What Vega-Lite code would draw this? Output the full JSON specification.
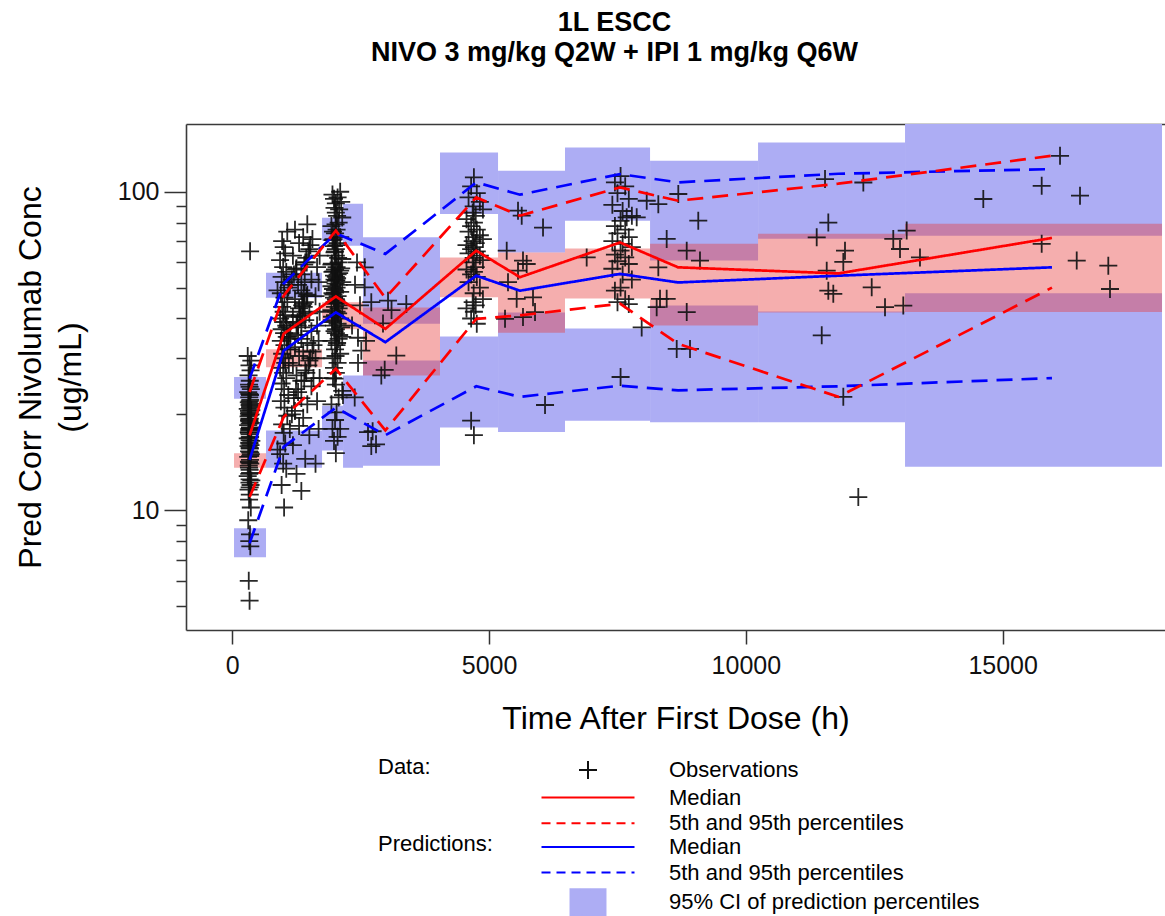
{
  "$schema": "https://vega.github.io/schema/vega-lite/v6.json",
  "width": 979,
  "height": 506,
  "autosize": {"type": "none"},
  "padding": {"left": 186, "top": 124, "right": 0, "bottom": 286},
  "background": "white",
  "config": {
    "font": "Liberation Sans",
    "view": {"stroke": null}
  },
  "title": {
    "text": ["1L ESCC", "NIVO 3 mg/kg Q2W + IPI 1 mg/kg Q6W"],
    "font": "Liberation Sans",
    "fontSize": 27,
    "fontWeight": "bold",
    "color": "#000",
    "lineHeight": 30,
    "anchor": "middle",
    "frame": "group",
    "offset": 57,
    "dx": -61
  },
  "resolve": {"axis": {"x": "independent"}},
  "datasets": {
    "piBoxes": [
      {"t0": 33, "t1": 656, "lo": 22.4, "hi": 26.2},
      {"t0": 33, "t1": 656, "lo": 7.12, "hi": 8.78},
      {"t0": 656, "t1": 1747, "lo": 46.5, "hi": 55.7},
      {"t0": 656, "t1": 1747, "lo": 13.6, "hi": 17.8},
      {"t0": 1747, "t1": 2156, "lo": 70.2, "hi": 82.9},
      {"t0": 1747, "t1": 2156, "lo": 15.4, "hi": 21.3},
      {"t0": 2156, "t1": 2545, "lo": 67.7, "hi": 91.7},
      {"t0": 2156, "t1": 2545, "lo": 13.6, "hi": 26.5},
      {"t0": 2545, "t1": 4044, "lo": 38.5, "hi": 71.9},
      {"t0": 2545, "t1": 4044, "lo": 13.8, "hi": 29.5},
      {"t0": 4044, "t1": 5174, "lo": 85.1, "hi": 132.8},
      {"t0": 4044, "t1": 5174, "lo": 18.2, "hi": 35.1},
      {"t0": 5174, "t1": 6478, "lo": 64.4, "hi": 116.4},
      {"t0": 5174, "t1": 6478, "lo": 17.6, "hi": 41.8},
      {"t0": 6478, "t1": 8134, "lo": 81.1, "hi": 137.7},
      {"t0": 6478, "t1": 8134, "lo": 19.1, "hi": 37.2},
      {"t0": 8134, "t1": 10237, "lo": 60.8, "hi": 125.1},
      {"t0": 8134, "t1": 10237, "lo": 18.9, "hi": 43.9},
      {"t0": 10237, "t1": 13099, "lo": 71.2, "hi": 142.7},
      {"t0": 10237, "t1": 13099, "lo": 18.9, "hi": 42.1},
      {"t0": 13099, "t1": 18103, "lo": 72.8, "hi": 200},
      {"t0": 13099, "t1": 18103, "lo": 13.7, "hi": 48.0}
    ],
    "medBoxes": [
      {"t0": 33, "t1": 656, "lo": 13.6, "hi": 15.1},
      {"t0": 656, "t1": 1747, "lo": 28.1, "hi": 32.0},
      {"t0": 1747, "t1": 2156, "lo": 39.0, "hi": 45.0},
      {"t0": 2156, "t1": 2545, "lo": 37.0, "hi": 45.0},
      {"t0": 2545, "t1": 4044, "lo": 26.5, "hi": 43.3},
      {"t0": 4044, "t1": 5174, "lo": 46.6, "hi": 62.2},
      {"t0": 5174, "t1": 6478, "lo": 36.1, "hi": 64.4},
      {"t0": 6478, "t1": 8134, "lo": 46.2, "hi": 66.3},
      {"t0": 8134, "t1": 10237, "lo": 38.0, "hi": 68.6},
      {"t0": 10237, "t1": 13099, "lo": 41.8, "hi": 73.8},
      {"t0": 13099, "t1": 18103, "lo": 41.9, "hi": 79.4}
    ],
    "obsLines": [
      {"t": 336, "stat": "Median", "q": "md", "v": 17.2},
      {"t": 1000, "stat": "Median", "q": "md", "v": 35.8},
      {"t": 2016, "stat": "Median", "q": "md", "v": 46.9},
      {"t": 2980, "stat": "Median", "q": "md", "v": 37.1},
      {"t": 4750, "stat": "Median", "q": "md", "v": 65.3},
      {"t": 5600, "stat": "Median", "q": "md", "v": 53.9},
      {"t": 7550, "stat": "Median", "q": "md", "v": 69.3},
      {"t": 8680, "stat": "Median", "q": "md", "v": 57.9},
      {"t": 11800, "stat": "Median", "q": "md", "v": 55.4},
      {"t": 15960, "stat": "Median", "q": "md", "v": 71.6},
      {"t": 336, "stat": "5th and 95th percentiles", "q": "lo", "v": 11.0},
      {"t": 1000, "stat": "5th and 95th percentiles", "q": "lo", "v": 19.6},
      {"t": 2016, "stat": "5th and 95th percentiles", "q": "lo", "v": 27.8},
      {"t": 2980, "stat": "5th and 95th percentiles", "q": "lo", "v": 17.8},
      {"t": 4750, "stat": "5th and 95th percentiles", "q": "lo", "v": 39.9},
      {"t": 5600, "stat": "5th and 95th percentiles", "q": "lo", "v": 40.9},
      {"t": 7550, "stat": "5th and 95th percentiles", "q": "lo", "v": 44.5},
      {"t": 8680, "stat": "5th and 95th percentiles", "q": "lo", "v": 33.3},
      {"t": 11800, "stat": "5th and 95th percentiles", "q": "lo", "v": 22.7},
      {"t": 15960, "stat": "5th and 95th percentiles", "q": "lo", "v": 50.0},
      {"t": 336, "stat": "5th and 95th percentiles", "q": "hi", "v": 23.5},
      {"t": 1000, "stat": "5th and 95th percentiles", "q": "hi", "v": 47.2},
      {"t": 2016, "stat": "5th and 95th percentiles", "q": "hi", "v": 75.5},
      {"t": 2980, "stat": "5th and 95th percentiles", "q": "hi", "v": 46.4},
      {"t": 4750, "stat": "5th and 95th percentiles", "q": "hi", "v": 96.0},
      {"t": 5600, "stat": "5th and 95th percentiles", "q": "hi", "v": 84.1},
      {"t": 7550, "stat": "5th and 95th percentiles", "q": "hi", "v": 103.2},
      {"t": 8680, "stat": "5th and 95th percentiles", "q": "hi", "v": 93.7},
      {"t": 11800, "stat": "5th and 95th percentiles", "q": "hi", "v": 106.0},
      {"t": 15960, "stat": "5th and 95th percentiles", "q": "hi", "v": 129.7}
    ],
    "predLines": [
      {"t": 336, "stat": "Median", "q": "md", "v": 14.4},
      {"t": 1000, "stat": "Median", "q": "md", "v": 31.7},
      {"t": 2016, "stat": "Median", "q": "md", "v": 41.8},
      {"t": 2980, "stat": "Median", "q": "md", "v": 33.7},
      {"t": 4750, "stat": "Median", "q": "md", "v": 54.5},
      {"t": 5600, "stat": "Median", "q": "md", "v": 48.9},
      {"t": 7550, "stat": "Median", "q": "md", "v": 55.2},
      {"t": 8680, "stat": "Median", "q": "md", "v": 51.9},
      {"t": 11800, "stat": "Median", "q": "md", "v": 54.5},
      {"t": 15960, "stat": "Median", "q": "md", "v": 57.9},
      {"t": 336, "stat": "5th and 95th percentiles", "q": "lo", "v": 7.87},
      {"t": 1000, "stat": "5th and 95th percentiles", "q": "lo", "v": 15.8},
      {"t": 2016, "stat": "5th and 95th percentiles", "q": "lo", "v": 21.0},
      {"t": 2980, "stat": "5th and 95th percentiles", "q": "lo", "v": 17.2},
      {"t": 4750, "stat": "5th and 95th percentiles", "q": "lo", "v": 24.5},
      {"t": 5600, "stat": "5th and 95th percentiles", "q": "lo", "v": 22.7},
      {"t": 7550, "stat": "5th and 95th percentiles", "q": "lo", "v": 24.6},
      {"t": 8680, "stat": "5th and 95th percentiles", "q": "lo", "v": 23.8},
      {"t": 11800, "stat": "5th and 95th percentiles", "q": "lo", "v": 24.5},
      {"t": 15960, "stat": "5th and 95th percentiles", "q": "lo", "v": 26.0},
      {"t": 336, "stat": "5th and 95th percentiles", "q": "hi", "v": 25.9},
      {"t": 1000, "stat": "5th and 95th percentiles", "q": "hi", "v": 51.5},
      {"t": 2016, "stat": "5th and 95th percentiles", "q": "hi", "v": 74.0},
      {"t": 2980, "stat": "5th and 95th percentiles", "q": "hi", "v": 63.8},
      {"t": 4750, "stat": "5th and 95th percentiles", "q": "hi", "v": 107.0},
      {"t": 5600, "stat": "5th and 95th percentiles", "q": "hi", "v": 97.9},
      {"t": 7550, "stat": "5th and 95th percentiles", "q": "hi", "v": 113.6},
      {"t": 8680, "stat": "5th and 95th percentiles", "q": "hi", "v": 107.0},
      {"t": 11800, "stat": "5th and 95th percentiles", "q": "hi", "v": 113.9},
      {"t": 15960, "stat": "5th and 95th percentiles", "q": "hi", "v": 117.8}
    ],
    "obs": [
      {"t":336,"c":5.2},{"t":320,"c":6.0},{"t":350,"c":7.7},{"t":330,"c":8.0},{"t":344,"c":8.4},{"t":310,"c":9.3},{"t":360,"c":10.2},{"t":326,"c":10.8},{"t":340,"c":11.2},{"t":316,"c":11.6},{"t":355,"c":12.0},{"t":334,"c":12.2},{"t":370,"c":12.4},{"t":300,"c":12.8},{"t":346,"c":13.1},
      {"t":336,"c":13.4},{"t":320,"c":13.8},{"t":350,"c":14.0},{"t":330,"c":14.1},{"t":344,"c":14.4},{"t":310,"c":14.7},{"t":360,"c":15.0},{"t":326,"c":15.3},{"t":340,"c":15.6},{"t":316,"c":15.9},{"t":355,"c":16.0},{"t":334,"c":16.2},{"t":370,"c":16.5},{"t":300,"c":16.8},{"t":346,"c":17.0},
      {"t":336,"c":17.3},{"t":320,"c":17.6},{"t":350,"c":17.9},{"t":330,"c":18.0},{"t":344,"c":18.2},{"t":310,"c":18.5},{"t":360,"c":18.8},{"t":326,"c":19.1},{"t":340,"c":19.4},{"t":316,"c":19.7},{"t":355,"c":20.0},{"t":334,"c":20.3},{"t":370,"c":20.6},{"t":300,"c":20.8},{"t":346,"c":21.0},
      {"t":336,"c":21.4},{"t":320,"c":21.8},{"t":350,"c":22.2},{"t":330,"c":22.6},{"t":344,"c":23.0},{"t":310,"c":23.5},{"t":360,"c":24.0},{"t":326,"c":24.8},{"t":340,"c":25.5},{"t":316,"c":26.5},{"t":355,"c":27.5},{"t":334,"c":28.5},{"t":370,"c":29.5},{"t":300,"c":30.5},{"t":346,"c":65.0},
      {"t":336,"c":12.5},{"t":324,"c":13.6},{"t":348,"c":14.8},{"t":338,"c":15.7},{"t":330,"c":16.3},{"t":336,"c":16.9},{"t":324,"c":17.5},{"t":348,"c":18.1},{"t":338,"c":18.7},{"t":330,"c":19.3},{"t":336,"c":19.9},{"t":324,"c":20.5},{"t":348,"c":21.2},{"t":338,"c":22.0},{"t":330,"c":23.2},{"t":336,"c":24.4},{"t":324,"c":14.2},{"t":348,"c":15.2},{"t":338,"c":16.6},{"t":330,"c":17.8},{"t":336,"c":19.0},{"t":324,"c":20.1},{"t":348,"c":21.6},{"t":338,"c":11.8},{"t":330,"c":13.0},
      {"t":1008,"c":10.2},{"t":960,"c":12.0},{"t":1050,"c":13.5},{"t":990,"c":14.0},{"t":930,"c":15.0},{"t":1030,"c":16.2},{"t":1000,"c":17.5},{"t":970,"c":18.6},{"t":1070,"c":19.8},{"t":1015,"c":21.0},{"t":945,"c":22.0},{"t":1090,"c":23.0},
      {"t":1008,"c":24.0},{"t":960,"c":25.0},{"t":1050,"c":26.0},{"t":990,"c":27.0},{"t":930,"c":28.0},{"t":1030,"c":29.0},{"t":1000,"c":30.0},{"t":970,"c":31.0},{"t":1070,"c":32.0},{"t":1015,"c":33.0},{"t":945,"c":34.0},{"t":1090,"c":35.0},
      {"t":1008,"c":36.0},{"t":960,"c":37.0},{"t":1050,"c":38.0},{"t":990,"c":39.0},{"t":930,"c":40.0},{"t":1030,"c":41.0},{"t":1000,"c":42.0},{"t":970,"c":43.5},{"t":1070,"c":45.0},{"t":1015,"c":46.5},{"t":945,"c":48.0},{"t":1090,"c":50.0},
      {"t":1008,"c":52.0},{"t":960,"c":54.0},{"t":1050,"c":56.0},{"t":990,"c":58.0},{"t":930,"c":61.0},{"t":1030,"c":64.0},{"t":1000,"c":67.0},{"t":970,"c":70.0},{"t":1070,"c":75.0},
      {"t":1344,"c":11.5},{"t":1250,"c":13.0},{"t":1420,"c":14.5},{"t":1180,"c":16.0},{"t":1500,"c":17.2},{"t":1300,"c":18.4},{"t":1380,"c":19.5},{"t":1220,"c":20.5},{"t":1460,"c":21.5},{"t":1344,"c":22.5},{"t":1280,"c":23.5},{"t":1540,"c":24.5},
      {"t":1344,"c":25.5},{"t":1250,"c":26.5},{"t":1420,"c":27.5},{"t":1180,"c":28.5},{"t":1500,"c":29.5},{"t":1300,"c":30.5},{"t":1380,"c":31.5},{"t":1220,"c":32.5},{"t":1460,"c":33.5},{"t":1344,"c":34.5},{"t":1280,"c":35.5},{"t":1540,"c":36.5},
      {"t":1344,"c":37.5},{"t":1250,"c":38.5},{"t":1420,"c":39.5},{"t":1180,"c":40.5},{"t":1500,"c":41.5},{"t":1300,"c":43.0},{"t":1380,"c":44.5},{"t":1220,"c":46.0},{"t":1460,"c":47.5},{"t":1344,"c":49.0},{"t":1280,"c":51.0},{"t":1540,"c":53.0},
      {"t":1344,"c":55.0},{"t":1250,"c":57.5},{"t":1420,"c":60.0},{"t":1180,"c":63.0},{"t":1500,"c":66.0},{"t":1300,"c":69.0},{"t":1380,"c":72.0},{"t":1220,"c":76.0},{"t":1460,"c":79.0},
      {"t":880,"c":15.5},{"t":1120,"c":18},{"t":1160,"c":20},{"t":1200,"c":22.5},{"t":1240,"c":24},{"t":1400,"c":25.5},{"t":1440,"c":27},{"t":1480,"c":28.5},{"t":1520,"c":30},{"t":1560,"c":31.5},
      {"t":1580,"c":33},{"t":1100,"c":34.5},{"t":1130,"c":36},{"t":1060,"c":37.5},{"t":1270,"c":39},{"t":1320,"c":40.5},{"t":1360,"c":42},{"t":1390,"c":43.5},{"t":1410,"c":45},{"t":1450,"c":47},
      {"t":880,"c":49},{"t":1120,"c":51},{"t":1160,"c":53},{"t":1200,"c":55},{"t":1240,"c":57},{"t":1400,"c":59},{"t":1440,"c":62},{"t":1480,"c":65},{"t":1520,"c":68},{"t":1560,"c":71},
      {"t":1580,"c":26},{"t":1100,"c":29},{"t":1130,"c":32},{"t":1060,"c":35},{"t":1270,"c":38},{"t":1320,"c":41},{"t":1360,"c":44},{"t":1390,"c":48},{"t":1410,"c":52},{"t":1450,"c":60},
      {"t":1620,"c":14},{"t":1680,"c":18},{"t":1650,"c":22},{"t":1700,"c":26},{"t":1620,"c":30},{"t":1680,"c":34},{"t":1650,"c":38},{"t":1700,"c":42},{"t":1620,"c":47},{"t":1680,"c":52},{"t":1650,"c":58},{"t":1700,"c":63},
      {"t":2016,"c":15.1},{"t":1980,"c":16.5},{"t":2050,"c":17.0},{"t":1950,"c":18.0},{"t":2100,"c":18.0},{"t":2000,"c":19.2},{"t":2030,"c":20.3},{"t":1930,"c":21.5},{"t":2070,"c":22.6},{"t":2140,"c":23.7},{"t":2016,"c":24.8},{"t":1990,"c":25.9},
      {"t":2016,"c":27.0},{"t":1980,"c":28.0},{"t":2050,"c":29.0},{"t":1950,"c":30.0},{"t":2100,"c":31.0},{"t":2000,"c":32.0},{"t":2030,"c":33.0},{"t":1930,"c":34.0},{"t":2070,"c":34.5},{"t":2140,"c":35.0},{"t":2016,"c":36.0},{"t":1990,"c":36.5},
      {"t":2016,"c":37.0},{"t":1980,"c":38.0},{"t":2050,"c":38.5},{"t":1950,"c":39.0},{"t":2100,"c":40.0},{"t":2000,"c":41.0},{"t":2030,"c":42.0},{"t":1930,"c":42.5},{"t":2070,"c":43.0},{"t":2140,"c":44.0},{"t":2016,"c":44.5},{"t":1990,"c":45.0},
      {"t":2016,"c":46.0},{"t":1980,"c":46.5},{"t":2050,"c":47.0},{"t":1950,"c":48.0},{"t":2100,"c":48.5},{"t":2000,"c":49.0},{"t":2030,"c":50.0},{"t":1930,"c":50.5},{"t":2070,"c":51.0},{"t":2140,"c":52.0},{"t":2016,"c":52.5},{"t":1990,"c":53.0},
      {"t":2016,"c":54.0},{"t":1980,"c":54.5},{"t":2050,"c":55.0},{"t":1950,"c":56.0},{"t":2100,"c":56.5},{"t":2000,"c":57.0},{"t":2030,"c":58.0},{"t":1930,"c":59.0},{"t":2070,"c":60.0},{"t":2140,"c":61.5},{"t":2016,"c":63.0},{"t":1990,"c":64.5},
      {"t":2016,"c":66.0},{"t":1980,"c":67.5},{"t":2050,"c":69.0},{"t":1950,"c":70.5},{"t":2100,"c":72.0},{"t":2000,"c":74.0},{"t":2030,"c":76.0},{"t":1930,"c":78.0},{"t":2070,"c":80.0},{"t":2140,"c":83.0},{"t":2016,"c":86.0},{"t":1990,"c":89.0},
      {"t":2016,"c":92.0},{"t":1980,"c":95.0},{"t":2050,"c":96.0},{"t":1950,"c":98.0},{"t":2100,"c":100.0},
      {"t":1960,"c":26},{"t":2010,"c":30.5},{"t":2040,"c":33.5},{"t":2080,"c":35.5},{"t":2120,"c":37.5},{"t":1940,"c":39.5},{"t":2060,"c":41.5},{"t":2000,"c":43.5},{"t":2025,"c":45.5},{"t":1970,"c":47.5},
      {"t":1960,"c":49.5},{"t":2010,"c":51.5},{"t":2040,"c":53.5},{"t":2080,"c":55.5},{"t":2120,"c":57.5},{"t":1940,"c":59.5},{"t":2060,"c":62},{"t":2000,"c":65},{"t":2025,"c":68},{"t":1970,"c":71},
      {"t":1960,"c":75},{"t":2010,"c":79},{"t":2040,"c":84},{"t":2080,"c":88},{"t":2120,"c":93},{"t":1940,"c":40.5},{"t":2060,"c":44.8},{"t":2000,"c":48.2},{"t":2025,"c":52.8},{"t":1970,"c":56.2},
      {"t":2389,"c":51},{"t":2486,"c":44},{"t":2331,"c":38},{"t":2603,"c":34},{"t":2448,"c":29},{"t":2428,"c":60},{"t":2155,"c":23},{"t":2383,"c":22.6},
      {"t":2578,"c":57.9},{"t":2706,"c":45.0},{"t":3032,"c":45.5},{"t":3388,"c":44.4},{"t":2934,"c":38.6},{"t":3193,"c":30.6},{"t":2901,"c":26.5},{"t":2967,"c":27.6},{"t":2706,"c":15.9},{"t":2642,"c":17.6},{"t":2512,"c":31.7},{"t":2447,"c":34.8},{"t":2578,"c":50.1},{"t":2732,"c":17.7},{"t":2798,"c":16.1},{"t":3100,"c":42.5},
      {"t":4704,"c":111},{"t":4650,"c":104},{"t":4760,"c":99},{"t":4600,"c":96},{"t":4820,"c":93},{"t":4700,"c":90},{"t":4880,"c":88},{"t":4680,"c":86},{"t":4740,"c":84},{"t":4560,"c":82},
      {"t":4704,"c":80},{"t":4650,"c":78},{"t":4760,"c":76},{"t":4600,"c":75},{"t":4820,"c":73},{"t":4700,"c":72},{"t":4880,"c":71},{"t":4680,"c":70},{"t":4740,"c":69},{"t":4560,"c":68},
      {"t":4704,"c":67},{"t":4650,"c":66},{"t":4760,"c":65},{"t":4600,"c":64},{"t":4820,"c":63},{"t":4700,"c":62},{"t":4880,"c":61},{"t":4680,"c":60},{"t":4740,"c":58},{"t":4560,"c":57},
      {"t":4704,"c":56},{"t":4650,"c":55},{"t":4760,"c":54},{"t":4600,"c":52},{"t":4820,"c":50},{"t":4700,"c":48},{"t":4880,"c":46},{"t":4680,"c":45},{"t":4740,"c":44},{"t":4560,"c":43},
      {"t":4704,"c":42},{"t":4650,"c":40},{"t":4760,"c":38.5},{"t":4650,"c":19.1},{"t":4704,"c":17.2},
      {"t":5343,"c":65.3},{"t":5660,"c":60.8},{"t":5563,"c":56.5},{"t":5368,"c":52},{"t":5537,"c":46.1},{"t":5855,"c":46.6},{"t":5660,"c":40.4},{"t":5894,"c":41.9},{"t":5310,"c":39.9},{"t":5563,"c":87.2},{"t":5635,"c":84.1},{"t":6050,"c":77.2},{"t":6089,"c":21.4},{"t":5732,"c":59.3},{"t":6900,"c":62.2},
      {"t":7560,"c":112},{"t":7450,"c":107},{"t":7650,"c":104},{"t":7500,"c":99},{"t":7720,"c":95},{"t":7400,"c":91},{"t":7600,"c":87},{"t":7780,"c":84},
      {"t":7560,"c":81},{"t":7450,"c":78},{"t":7650,"c":76},{"t":7500,"c":74},{"t":7720,"c":72},{"t":7400,"c":70},{"t":7600,"c":68.6},{"t":7780,"c":67},
      {"t":7560,"c":65.3},{"t":7450,"c":63.5},{"t":7650,"c":62.2},{"t":7500,"c":60.5},{"t":7720,"c":59.3},{"t":7400,"c":57.3},{"t":7600,"c":55},{"t":7780,"c":53},
      {"t":7560,"c":50},{"t":7450,"c":48.9},{"t":7650,"c":46},{"t":7500,"c":45},{"t":7720,"c":44.4},{"t":7560,"c":26.2},
      {"t":7679,"c":83.1},{"t":7874,"c":83.1},{"t":8069,"c":93.7},{"t":8295,"c":91.4},{"t":8684,"c":98.4},{"t":9073,"c":81.1},{"t":8458,"c":71.1},{"t":8848,"c":65.3},{"t":9106,"c":60.8},{"t":8295,"c":57.9},{"t":8328,"c":46.1},{"t":8458,"c":46.1},{"t":8263,"c":43.4},{"t":8848,"c":41.9},{"t":7971,"c":37.5},{"t":8653,"c":32.1},{"t":8912,"c":32.1},
      {"t":11379,"c":71.9},{"t":11541,"c":109.6},{"t":12287,"c":106.9},{"t":11605,"c":80.0},{"t":11930,"c":65.3},{"t":11897,"c":60.2},{"t":12870,"c":71.1},{"t":13131,"c":75.5},{"t":13001,"c":66.1},{"t":13390,"c":62.2},{"t":11574,"c":56.5},{"t":11605,"c":48.9},{"t":11702,"c":47.8},{"t":12450,"c":50.1},{"t":12709,"c":43.4},{"t":13065,"c":43.9},{"t":11477,"c":35.4},{"t":11897,"c":22.7},{"t":12189,"c":11.0},
      {"t":14623,"c":94.9},{"t":15760,"c":104.4},{"t":16117,"c":129.7},{"t":16506,"c":97.2},{"t":15760,"c":68.6},{"t":16442,"c":60.8},{"t":17057,"c":58.6},{"t":17090,"c":49.5}
    ]
  },
  "layer": [
    {
      "data": {"name": "piBoxes"},
      "mark": {"type": "rect", "clip": true},
      "encoding": {
        "x": {
          "field": "t0", "type": "quantitative",
          "scale": {"domain": [-902, 18161], "nice": false, "zero": false},
          "axis": {
            "values": [0, 5000, 10000, 15000], "format": "d",
            "title": "Time After First Dose (h)",
            "titleFont": "Liberation Sans", "titleFontSize": 32, "titleFontWeight": "normal", "titleColor": "#000", "titlePadding": 25,
            "labelFont": "Liberation Sans", "labelFontSize": 25, "labelColor": "#111", "labelPadding": 9,
            "labelFlush": false, "labelOverlap": false,
            "tickSize": 14, "tickColor": "#333", "tickWidth": 1.5,
            "domain": true, "domainColor": "#3a3a3a", "domainWidth": 1.6, "grid": false
          }
        },
        "x2": {"field": "t1"},
        "y": {
          "field": "lo", "type": "quantitative",
          "scale": {"type": "log", "domain": [4.206, 163.2], "nice": false, "zero": false},
          "axis": {
            "values": [5, 6, 7, 8, 9, 10, 20, 30, 40, 50, 60, 70, 80, 90, 100],
            "labelExpr": "datum.value == 10 || datum.value == 100 ? format(datum.value, 'd') : ''",
            "title": ["Pred Corr Nivolumab Conc", "(ug/mL)"],
            "titleFont": "Liberation Sans", "titleFontSize": 32, "titleFontWeight": "normal", "titleColor": "#000", "titleLineHeight": 40, "titlePadding": 30,
            "labelFont": "Liberation Sans", "labelFontSize": 25, "labelColor": "#111", "labelPadding": 5,
            "labelFlush": false, "labelOverlap": false,
            "tickSize": {"condition": {"test": "datum.value == 10 || datum.value == 100", "value": 22}, "value": 10},
            "tickColor": "#333", "tickWidth": 1.5,
            "domain": true, "domainColor": "#3a3a3a", "domainWidth": 1.6, "grid": false
          }
        },
        "y2": {"field": "hi"},
        "color": {
          "datum": "95% CI of prediction percentiles", "type": "nominal",
          "scale": {"domain": ["Median", "5th and 95th percentiles", "95% CI of prediction percentiles"], "range": ["#0000ff", "#0000ff", "#adadf4"]},
          "legend": {
            "title": "Predictions:", "orient": "none", "legendX": 192, "legendY": 710, "direction": "vertical",
            "titleOrient": "left", "titleAnchor": "start", "titleBaseline": "top", "titleFont": "Liberation Sans", "titleFontSize": 22, "titleFontWeight": "normal", "titleColor": "#000", "titlePadding": 82, "titleLimit": 400,
            "labelFont": "Liberation Sans", "labelFontSize": 22, "labelColor": "#000", "labelOffset": 68, "labelLimit": 500,
            "symbolSize": 576, "symbolStrokeWidth": 2, "rowPadding": 1.6, "padding": 0,
            "encode": {
              "symbols": {
                "update": {
                  "shape": {"signal": "datum.value === '95% CI of prediction percentiles' ? 'M-1.458,-1.083H1.458V1.083H-1.458Z' : 'M-3.875,0H3.875'"},
                  "fill": {"signal": "datum.value === '95% CI of prediction percentiles' ? '#9d9df1' : 'transparent'"},
                  "stroke": {"signal": "datum.value === '95% CI of prediction percentiles' ? 'transparent' : '#3a3aff'"},
                  "strokeDash": {"signal": "datum.value === '5th and 95th percentiles' ? [9, 6] : [1, 0]"},
                  "opacity": {"value": 1}
                }
              }
            }
          }
        }
      }
    },
    {
      "data": {"name": "medBoxes"},
      "mark": {"type": "rect", "clip": true, "color": "#e73e3e", "opacity": 0.42},
      "encoding": {
        "x": {
          "field": "t0", "type": "quantitative",
          "axis": {"orient": "top", "labels": false, "ticks": false, "title": null, "grid": false, "domain": true, "domainColor": "#3a3a3a", "domainWidth": 1.6}
        },
        "x2": {"field": "t1"},
        "y": {"field": "lo", "type": "quantitative"},
        "y2": {"field": "hi"}
      }
    },
    {
      "data": {"name": "obs"},
      "mark": {"type": "point", "shape": "M-1,0H1M0,-1V1", "size": 324, "filled": false, "stroke": "#111111", "strokeWidth": 1.8, "opacity": 0.9, "clip": true},
      "encoding": {
        "x": {"field": "t", "type": "quantitative", "axis": null},
        "y": {"field": "c", "type": "quantitative"}
      }
    },
    {
      "data": {"name": "predLines"},
      "mark": {"type": "line", "strokeWidth": 2.7, "clip": true},
      "encoding": {
        "x": {"field": "t", "type": "quantitative", "axis": null},
        "y": {"field": "v", "type": "quantitative"},
        "color": {"field": "stat", "type": "nominal"},
        "strokeDash": {"field": "stat", "type": "nominal", "scale": {"domain": ["Median", "5th and 95th percentiles"], "range": [[1, 0], [16, 9]]}, "legend": null},
        "detail": {"field": "q"}
      }
    },
    {
      "data": {"name": "obsLines"},
      "mark": {"type": "line", "strokeWidth": 2.7, "clip": true},
      "encoding": {
        "x": {"field": "t", "type": "quantitative", "axis": null},
        "y": {"field": "v", "type": "quantitative"},
        "stroke": {
          "field": "stat", "type": "nominal",
          "scale": {"domain": ["Observations", "Median", "5th and 95th percentiles"], "range": ["#111111", "#ff0000", "#ff0000"]},
          "legend": {
            "title": "Data:", "orient": "none", "legendX": 192, "legendY": 633, "direction": "vertical",
            "titleOrient": "left", "titleAnchor": "start", "titleBaseline": "top", "titleFont": "Liberation Sans", "titleFontSize": 22, "titleFontWeight": "normal", "titleColor": "#000", "titlePadding": 144, "titleLimit": 400,
            "labelFont": "Liberation Sans", "labelFontSize": 22, "labelColor": "#000", "labelOffset": 68, "labelLimit": 500,
            "symbolSize": 576, "symbolStrokeWidth": 2, "rowPadding": 1.6, "padding": 0,
            "encode": {
              "symbols": {
                "update": {
                  "shape": {"signal": "datum.value === 'Observations' ? 'M-0.75,0H0.75M0,-0.75V0.75' : 'M-3.875,0H3.875'"},
                  "fill": {"value": "transparent"},
                  "stroke": {"signal": "datum.value === 'Observations' ? '#111111' : '#ff4a4a'"},
                  "strokeDash": {"signal": "datum.value === '5th and 95th percentiles' ? [9, 6] : [1, 0]"},
                  "opacity": {"value": 1}
                }
              }
            }
          }
        },
        "strokeDash": {"field": "stat", "type": "nominal", "legend": null},
        "detail": {"field": "q"}
      }
    }
  ]
}
